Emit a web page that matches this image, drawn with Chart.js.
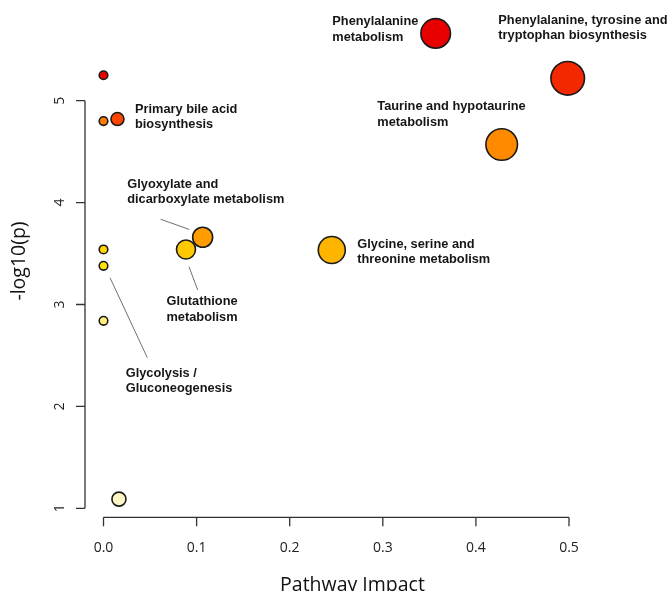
<!DOCTYPE html>
<html>
<head>
<meta charset="utf-8">
<script src="https://cdn.jsdelivr.net/npm/chart.js@4.4.1/dist/chart.umd.min.js"></script>
<style>
  html, body { margin: 0; padding: 0; background: #ffffff; }
  #wrap { width: 670px; height: 591px; position: relative; }
</style>
</head>
<body>
<div id="wrap"><canvas id="c" width="670" height="591"></canvas></div>
<script>
// ---------------- DATA ----------------
const pathwayNames = [
  "Pathway A", "Pathway B", "Primary bile acid biosynthesis", "Pathway D",
  "Glycolysis / Gluconeogenesis", "Pathway F", "Pathway G",
  "Glyoxylate and dicarboxylate metabolism", "Glutathione metabolism",
  "Glycine, serine and threonine metabolism", "Taurine and hypotaurine metabolism",
  "Phenylalanine, tyrosine and tryptophan biosynthesis", "Phenylalanine metabolism"
];
const pathwayImpact = [0.000, 0.000, 0.015, 0.000, 0.000, 0.000, 0.0166, 0.1065, 0.0886, 0.2452, 0.4277, 0.4986, 0.3568];
const negLog10P    = [5.25, 4.80, 4.82, 3.54, 3.38, 2.84, 1.09, 3.66, 3.54, 3.535, 4.57, 5.22, 5.66];
const xTickLabels = ["0.0", "0.1", "0.2", "0.3", "0.4", "0.5"];
const xTickValues = [0.0, 0.1, 0.2, 0.3, 0.4, 0.5];
const yTickLabels = ["1", "2", "3", "4", "5"];
const yTickValues = [1, 2, 3, 4, 5];

// ---------------- STYLE ----------------
const bubbleRadius = [4.3, 4.3, 6.5, 4.3, 4.3, 4.3, 7, 10, 9.5, 13.5, 15.8, 16.8, 14.8];
const bubbleColors = [
  "#e60000", "#ff7a00", "#ff4500", "#ffd400", "#ffe600", "#ffee77", "#fff6c6",
  "#ff9c00", "#ffc800", "#ffb400", "#ff8a00", "#f42800", "#e80000"
];
// text annotations anchored to a data point: offsets in px
const annotations = [
  { i: 2,  dx: 17.5,   dy: -9.7,  lines: ["Primary bile acid", "biosynthesis"], leader: null },
  { i: 7,  dx: -75.4,  dy: -53,   lines: ["Glyoxylate and", "dicarboxylate metabolism"], leader: [-42, -18, -13.4, -7.8] },
  { i: 8,  dx: -19.5,  dy: 52.2,  lines: ["Glutathione", "metabolism"], leader: [3, 17.2, 11.7, 40.5] },
  { i: 4,  dx: 22.2,   dy: 107.5, lines: ["Glycolysis /", "Gluconeogenesis"], leader: [6.5, 11.9, 43.8, 91.9] },
  { i: 9,  dx: 25.5,   dy: -5.7,  lines: ["Glycine, serine and", "threonine metabolism"], leader: null },
  { i: 10, dx: -124.4, dy: -37.8, lines: ["Taurine and hypotaurine", "metabolism"], leader: null },
  { i: 12, dx: -103.4, dy: -11.5, lines: ["Phenylalanine", "metabolism"], leader: null },
  { i: 11, dx: -69.4,  dy: -58.3, lines: ["Phenylalanine, tyrosine and", "tryptophan biosynthesis"], leader: null }
];

const points = pathwayImpact.map((x, k) => ({ x: x, y: negLog10P[k], r: bubbleRadius[k] }));

const axesPlugin = {
  id: 'rAxes',
  afterDatasetsDraw(chart) {
    const ctx = chart.ctx;
    const xs = chart.scales.x, ys = chart.scales.y;
    ctx.save();
    // leader lines + annotation text
    ctx.strokeStyle = "#707070";
    ctx.lineWidth = 1;
    ctx.font = "bold 12.8px 'Liberation Sans', Arial, sans-serif";
    ctx.fillStyle = "#161616";
    ctx.textBaseline = "middle";
    ctx.textAlign = "left";
    annotations.forEach(a => {
      const px = xs.getPixelForValue(pathwayImpact[a.i]);
      const py = ys.getPixelForValue(negLog10P[a.i]);
      if (a.leader) {
        ctx.beginPath();
        ctx.moveTo(px + a.leader[0], py + a.leader[1]);
        ctx.lineTo(px + a.leader[2], py + a.leader[3]);
        ctx.stroke();
      }
      a.lines.forEach((t, j) => ctx.fillText(t, px + a.dx, py + a.dy + j * 15.5));
    });

    // axes (R style, detached)
    ctx.strokeStyle = "#333333";
    ctx.lineWidth = 1.3;
    ctx.fillStyle = "#222222";
    ctx.font = "14px 'Open Sans', sans-serif";
    const x0 = xs.getPixelForValue(xTickValues[0]);
    const yBottom = ys.getPixelForValue(yTickValues[0]);
    // y axis
    const yAxisX = x0 - 18.5;
    ctx.beginPath();
    ctx.moveTo(yAxisX, yBottom);
    ctx.lineTo(yAxisX, ys.getPixelForValue(yTickValues[yTickValues.length - 1]));
    yTickValues.forEach(v => {
      const p = ys.getPixelForValue(v);
      ctx.moveTo(yAxisX, p);
      ctx.lineTo(yAxisX - 9, p);
    });
    ctx.stroke();
    yTickValues.forEach((v, k) => {
      const p = ys.getPixelForValue(v);
      ctx.save();
      ctx.translate(yAxisX - 24.5, p);
      ctx.rotate(-Math.PI / 2);
      ctx.textAlign = "center";
      ctx.textBaseline = "middle";
      ctx.fillText(yTickLabels[k], 0, 0);
      ctx.restore();
    });
    // x axis
    const xAxisY = yBottom + 9;
    ctx.beginPath();
    ctx.moveTo(x0, xAxisY);
    ctx.lineTo(xs.getPixelForValue(xTickValues[xTickValues.length - 1]), xAxisY);
    xTickValues.forEach(v => {
      const p = xs.getPixelForValue(v);
      ctx.moveTo(p, xAxisY);
      ctx.lineTo(p, xAxisY + 9);
    });
    ctx.stroke();
    ctx.textAlign = "center";
    ctx.textBaseline = "middle";
    xTickValues.forEach((v, k) => {
      ctx.fillText(xTickLabels[k], xs.getPixelForValue(v), xAxisY + 31);
    });
    // axis titles
    ctx.font = "19.5px 'Open Sans', sans-serif";
    ctx.fillStyle = "#111111";
    ctx.textBaseline = "alphabetic";
    ctx.fillText("Pathway Impact", 352.5, 591);
    ctx.save();
    ctx.translate(25, 261);
    ctx.rotate(-Math.PI / 2);
    ctx.textAlign = "center";
    ctx.fillText("-log10(p)", 0, 0);
    ctx.restore();
    ctx.restore();
  }
};

new Chart(document.getElementById('c'), {
  type: 'bubble',
  data: {
    datasets: [{
      label: 'Pathways',
      data: points,
      backgroundColor: bubbleColors,
      borderColor: "#1a1a1a",
      borderWidth: 1.6,
      clip: false,
      hoverRadius: 0
    }]
  },
  options: {
    responsive: false,
    animation: false,
    events: [],
    layout: { autoPadding: false, padding: { left: 103.5, right: 101, top: 9.0, bottom: 82.7 } },
    plugins: { legend: { display: false }, tooltip: { enabled: false } },
    scales: {
      x: { type: 'linear', min: 0, max: 0.5, display: false },
      y: { type: 'linear', min: 1, max: 5.9, display: false }
    }
  },
  plugins: [axesPlugin]
});
</script>
</body>
</html>
